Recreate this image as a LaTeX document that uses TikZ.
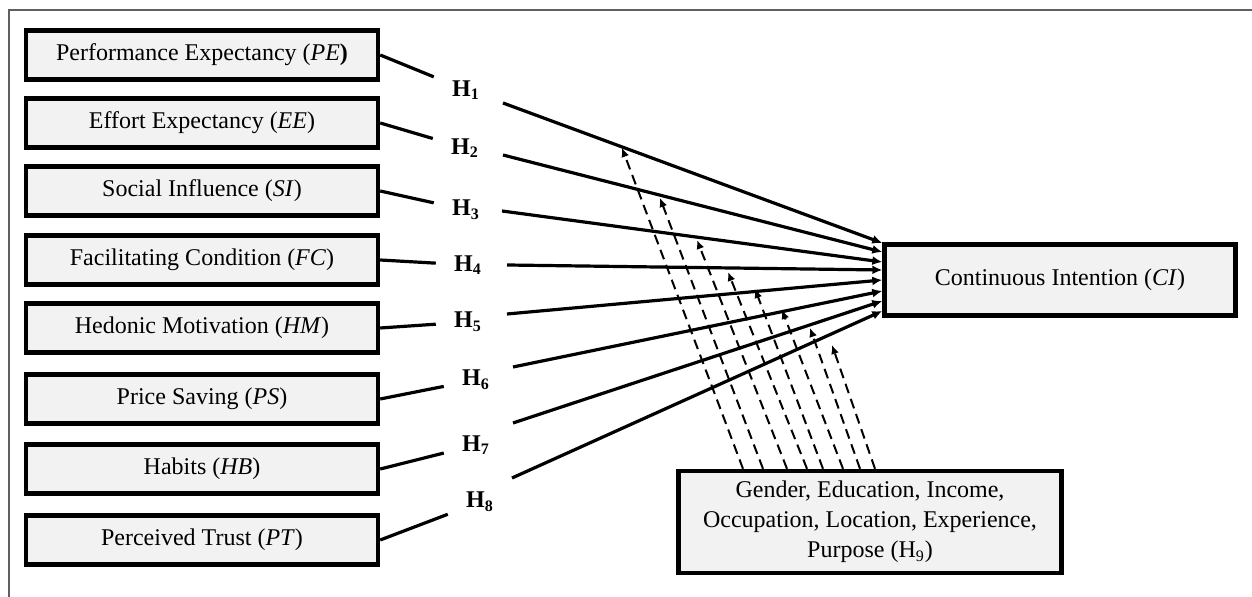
\documentclass[tikz,border=0pt]{standalone}
\usepackage{fontspec}
\setmainfont{Liberation Serif}
\usetikzlibrary{arrows.meta,calc}
\definecolor{boxgray}{HTML}{F2F2F2}

\begin{document}
\begin{tikzpicture}[x=0.5pt,y=-0.5pt,
    every node/.style={font=\fontsize{12}{15}\selectfont},
    construct/.style={draw,line width=2.2pt,fill=boxgray,minimum width=176pt,minimum height=24.5pt,inner sep=2pt},
    hyp/.style={font=\fontsize{12}{15}\selectfont\bfseries,inner xsep=9pt,inner ysep=4pt},
    link/.style={line width=1.6pt},
    effect/.style={line width=1.6pt,-{Latex[length=5pt,width=4.5pt]}},
    moderate/.style={line width=1pt,dash pattern=on 5pt off 3pt,-{Latex[length=4.5pt,width=4pt]}}]
  \useasboundingbox (0,0) rectangle (1252,597);
  \draw[line width=0.8pt,gray!75!black] (9,597) -- (9,10) -- (1252,10);
  \foreach \nm/\y/\txt in {pe/55/{Performance Expectancy (\textit{PE}\textbf{)}},
      ee/123/{Effort Expectancy (\textit{EE})},
      si/191/{Social Influence (\textit{SI})},
      fc/260/{Facilitating Condition (\textit{FC})},
      hm/328/{Hedonic Motivation (\textit{HM})},
      ps/399/{Price Saving (\textit{PS})},
      hb/469/{Habits (\textit{HB})},
      pt/540/{Perceived Trust (\textit{PT})}} {
      \node[construct] (\nm) at (202,\y) {\txt};
  }
  \node[construct,minimum width=175.5pt,minimum height=35.5pt] (ci) at (1060,280) {Continuous Intention (\textit{CI})};
  \node[construct,align=center,minimum width=191.5pt,minimum height=51pt] (mod) at (870,522)
      {Gender, Education, Income,\\Occupation, Location, Experience,\\Purpose (H\textsubscript{9})};
  \foreach \i/\x/\y in {1/466/90, 2/465/148, 3/466/210, 4/468/265, 5/468/322, 6/476/380, 7/476/445, 8/480/502} {
      \node[hyp] (h\i) at (\x,\y) {H\textsubscript{\i}};
  }
  \foreach \nm/\i in {pe/1, ee/2, si/3, fc/4, hm/5, ps/6, hb/7, pt/8} {
      \draw[link] (\nm.east) -- (h\i);
  }
  \foreach \i/\sx/\sy/\dy in {1/37/13/-37, 2/38/7/-28, 3/36/1/-18, 4/39/0/-10, 5/39/-8/0, 6/37/-13/11, 7/37/-22/21, 8/32/-24/31} {
      \draw[effect] ($(h\i)+(\sx,\sy)$) -- ($(ci.west)+(0,\dy)$);
  }
  \foreach \i/\dx/\x/\y in {1/-127/622/148, 2/-107/660/198, 3/-83/697/240, 4/-63/728/272,
      5/-47/755/289, 6/-27/782/310, 7/-10/810/328, 8/5/832/345} {
      \coordinate (t\i) at (\x,\y);
      \draw[moderate] ($(mod.north)+(\dx,0)$) -- (t\i);
  }
\end{tikzpicture}
\end{document}
